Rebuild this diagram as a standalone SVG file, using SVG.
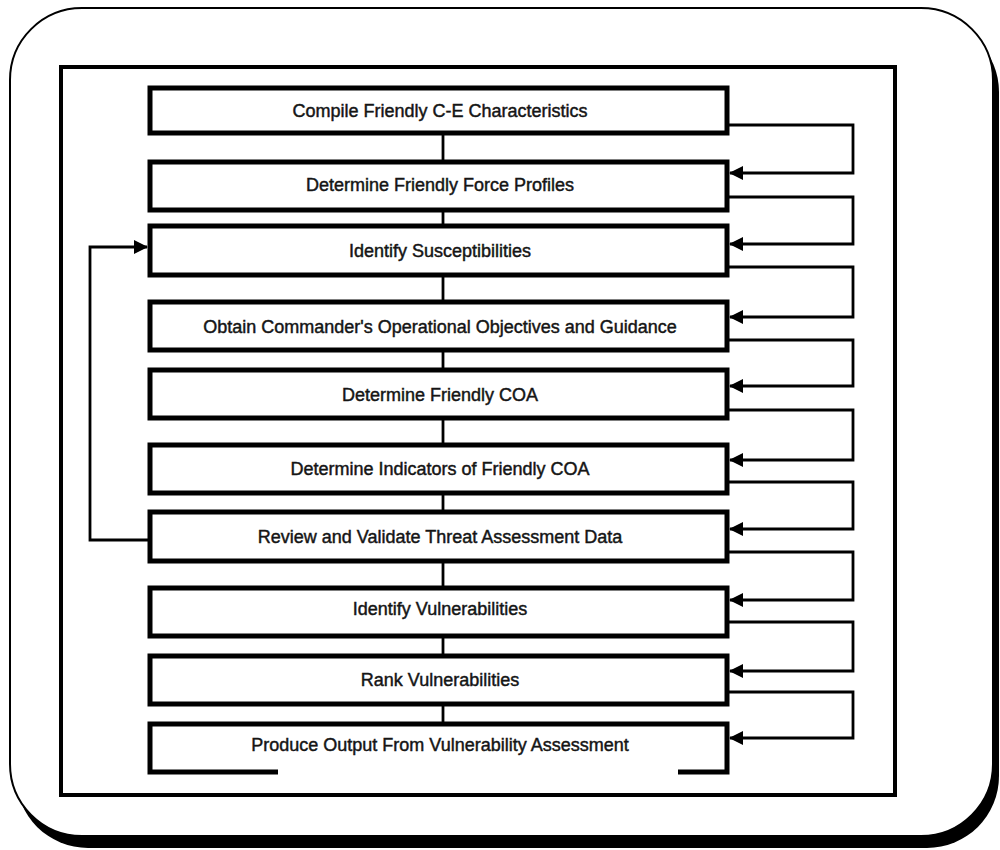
<svg xmlns="http://www.w3.org/2000/svg" width="1000" height="850" viewBox="0 0 1000 850">
  <style>
    .box { fill: #ffffff; stroke: #000000; stroke-width: 5; }
    .label { font-family: "Liberation Sans", Arial, Helvetica, sans-serif; font-size: 18px; fill: #151515; stroke: #151515; stroke-width: 0.45; text-anchor: middle; }
    .link { fill: none; stroke: #000000; stroke-width: 2.8; }
    .frame { fill: none; stroke: #000000; stroke-width: 4; }
  </style>
  <defs>
    <marker id="arrow" viewBox="0 0 14 14" refX="13" refY="7" markerWidth="14" markerHeight="14" markerUnits="userSpaceOnUse" orient="auto">
      <path d="M0,0 L14,7 L0,14 Z" fill="#000000"/>
    </marker>
  </defs>

  <!-- page card with drop shadow -->
  <rect x="0" y="0" width="1000" height="850" fill="#ffffff"/>
  <rect x="16" y="20" width="983" height="828" rx="72" ry="72" fill="#000000"/>
  <rect x="10" y="8" width="983" height="828" rx="72" ry="72" fill="#ffffff" stroke="#000000" stroke-width="2"/>

  <!-- figure border -->
  <rect class="frame" x="61" y="67" width="834" height="728"/>

  <!-- connectors -->
  <g id="connectors">
    <!-- sequential links -->
    <line class="link" x1="443" y1="133" x2="443" y2="162"/>
    <line class="link" x1="443" y1="210" x2="443" y2="226"/>
    <line class="link" x1="443" y1="275" x2="443" y2="302"/>
    <line class="link" x1="443" y1="350" x2="443" y2="370"/>
    <line class="link" x1="443" y1="418" x2="443" y2="445"/>
    <line class="link" x1="443" y1="493" x2="443" y2="512"/>
    <line class="link" x1="443" y1="561" x2="443" y2="588"/>
    <line class="link" x1="443" y1="636" x2="443" y2="656"/>
    <line class="link" x1="443" y1="704" x2="443" y2="724"/>
    <!-- right-hand feed-forward loops -->
    <path class="link" d="M727,125 H853 V173 H730" marker-end="url(#arrow)"/>
    <path class="link" d="M727,197 H853 V244 H730" marker-end="url(#arrow)"/>
    <path class="link" d="M727,267 H853 V317 H730" marker-end="url(#arrow)"/>
    <path class="link" d="M727,340 H853 V386 H730" marker-end="url(#arrow)"/>
    <path class="link" d="M727,410 H853 V460 H730" marker-end="url(#arrow)"/>
    <path class="link" d="M727,482 H853 V529 H730" marker-end="url(#arrow)"/>
    <path class="link" d="M727,552 H853 V600 H730" marker-end="url(#arrow)"/>
    <path class="link" d="M727,622 H853 V671 H730" marker-end="url(#arrow)"/>
    <path class="link" d="M727,692 H853 V738 H730" marker-end="url(#arrow)"/>
    <!-- feedback from threat review to susceptibilities -->
    <path class="link" d="M150,540 H90 V247 H147" marker-end="url(#arrow)"/>
  </g>

  <!-- process steps -->
  <g id="step1"><rect class="box" x="150" y="88" width="577" height="45"/><text class="label" x="440" y="117">Compile Friendly C-E Characteristics</text></g>
  <g id="step2"><rect class="box" x="150" y="162" width="577" height="48"/><text class="label" x="440" y="191">Determine Friendly Force Profiles</text></g>
  <g id="step3"><rect class="box" x="150" y="226" width="577" height="49"/><text class="label" x="440" y="257">Identify Susceptibilities</text></g>
  <g id="step4"><rect class="box" x="150" y="302" width="577" height="48"/><text class="label" x="440" y="333">Obtain Commander's Operational Objectives and Guidance</text></g>
  <g id="step5"><rect class="box" x="150" y="370" width="577" height="48"/><text class="label" x="440" y="401">Determine Friendly COA</text></g>
  <g id="step6"><rect class="box" x="150" y="445" width="577" height="48"/><text class="label" x="440" y="475">Determine Indicators of Friendly COA</text></g>
  <g id="step7"><rect class="box" x="150" y="512" width="577" height="49"/><text class="label" x="440" y="543">Review and Validate Threat Assessment Data</text></g>
  <g id="step8"><rect class="box" x="150" y="588" width="577" height="48"/><text class="label" x="440" y="615">Identify Vulnerabilities</text></g>
  <g id="step9"><rect class="box" x="150" y="656" width="577" height="48"/><text class="label" x="440" y="686">Rank Vulnerabilities</text></g>
  <g id="step10">
    <rect x="150" y="724" width="577" height="48" fill="#ffffff"/>
    <path d="M278,772 H150 V724 H727 V772 H678" fill="none" stroke="#000000" stroke-width="5"/>
    <text class="label" x="440" y="751">Produce Output From Vulnerability Assessment</text>
  </g>
</svg>
